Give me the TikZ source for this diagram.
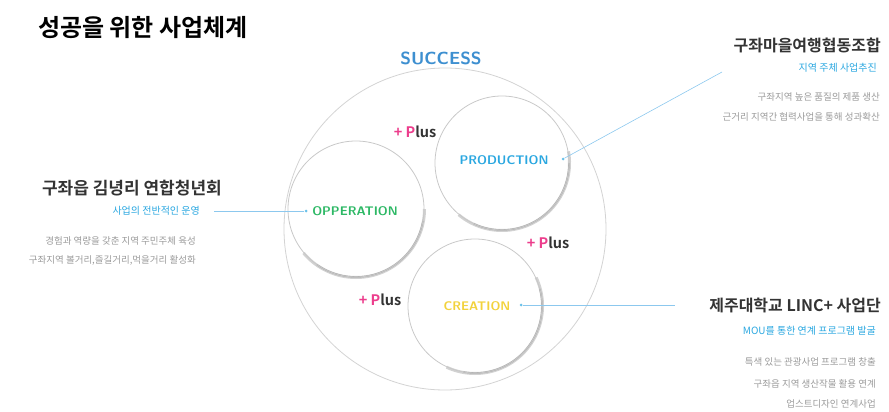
\documentclass[tikz,border=0pt]{standalone}
\usepackage{fontspec}
\setmainfont{Noto Sans CJK KR}
\newfontfamily\krb{Noto Sans CJK KR Bold}
\definecolor{sucblue}{HTML}{3D8FD0}
\definecolor{prodblue}{HTML}{2AA7E0}
\definecolor{opgreen}{HTML}{2DB865}
\definecolor{crYellow}{HTML}{F2D23C}
\definecolor{plpink}{HTML}{EC3D8C}
\definecolor{txtgray}{HTML}{9A9A9A}
\definecolor{linkblue}{HTML}{8CC8EE}
\definecolor{ringgray}{HTML}{C8C8C8}
\begin{document}
\begin{tikzpicture}[x=1pt,y=-1pt,
  ring/.style={draw=ringgray,line width=0.8pt},
  shade/.style={draw=gray!35,line width=3pt},
  shadein/.style={draw=gray!65,line width=1.4pt},
  orgtitle/.style={font=\krb\fontsize{16}{16}\selectfont,text=black!80,anchor=east,inner sep=0},
  orgsub/.style={font=\fontsize{10}{10}\selectfont,text=prodblue,anchor=east,inner sep=0},
  orgtxt/.style={font=\fontsize{9.5}{10}\selectfont,text=txtgray,anchor=east,inner sep=0},
  circlabel/.style={font=\bfseries\sffamily\fontsize{12.5}{12.5}\selectfont,inner sep=0},
  plus/.style={font=\krb\fontsize{14.5}{14.5}\selectfont,inner sep=0},
  link/.style={draw=linkblue,line width=0.6pt},
  dot/.style={circle,fill=prodblue!70,inner sep=0,minimum size=3pt}]
\useasboundingbox (0,0) rectangle (889,412);
% title
\node[font=\krb\fontsize{24}{24}\selectfont,anchor=west,inner sep=0] (title) at (38,28) {성공을 위한 사업체계};
% big circle
\draw[ring,draw=ringgray!80] (445,229) circle (161);
\node[font=\bfseries\sffamily\fontsize{17.5}{17.5}\selectfont,text=sucblue,fill=white,inner sep=3pt] (success) at (441,58) {SUCCESS};
% three circles
\draw[shade] (502,163) ++(-10:67.5) arc (-10:130:67.5);
\draw[shadein] (502,163) ++(0:67) arc (0:115:67);
\draw[ring] (502,163) circle (67);
\draw[shade] (356,209) ++(0:68.5) arc (0:140:68.5);
\draw[shadein] (356,209) ++(10:68) arc (10:125:68);
\draw[ring] (356,209) circle (68);
\draw[shade] (475,306) ++(-25:67.5) arc (-25:115:67.5);
\draw[shadein] (475,306) ++(-15:67) arc (-15:100:67);
\draw[ring] (475,306) circle (67);
% circle labels
\node[circlabel,text=prodblue] (prod) at (504,160) {PRODUCTION};
\node[circlabel,text=opgreen] (opp) at (355,211) {OPPERATION};
\node[circlabel,text=crYellow] (crea) at (477,306) {CREATION};
\node[dot] (dprod) at (563,159) {};
\node[dot] (dopp) at (306,211) {};
\node[dot] (dcrea) at (521,305) {};
% plus labels
\node[plus] (p1) at (415,132) {\textcolor{plpink}{+ P}\textcolor{black!80}{lus}};
\node[plus] (p2) at (548,243) {\textcolor{plpink}{+ P}\textcolor{black!80}{lus}};
\node[plus] (p3) at (380,300) {\textcolor{plpink}{+ P}\textcolor{black!80}{lus}};
% left block
\node[orgtitle,font=\krb\fontsize{17}{17}\selectfont] (ltitle) at (222,188) {구좌읍 김녕리 연합청년회};
\node[orgsub] (lsub) at (200,211) {사업의 전반적인 운영};
\node[orgtxt] (l1) at (196,241) {경험과 역량을 갖춘 지역 주민주체 육성};
\node[orgtxt] (l2) at (196,260) {구좌지역 볼거리,즐길거리,먹을거리 활성화};
\coordinate (lend) at (214,211);
\draw[link] (lend) -- (dopp);
% top right block
\node[orgtitle] (rtitle) at (881,45) {구좌마을여행협동조합};
\node[orgsub] (rsub) at (877,68) {지역 주체 사업추진};
\node[orgtxt] (r1) at (880,97) {구좌지역 높은 품질의 제품 생산};
\node[orgtxt] (r2) at (880,117) {근거리 지역간 협력사업을 통해 성과확산};
\coordinate (rend) at (722,72);
\draw[link] (dprod) -- (rend);
% bottom right block
\node[orgtitle] (btitle) at (881,305) {제주대학교 LINC+ 사업단};
\node[orgsub] (bsub) at (876,331) {MOU를 통한 연계 프로그램 발굴};
\node[orgtxt] (b1) at (876,362) {특색 있는 관광사업 프로그램 창출};
\node[orgtxt] (b2) at (876,384) {구좌읍 지역 생산작물 활용 연계};
\node[orgtxt] (b3) at (876,404) {업스트디자인 연계사업};
\coordinate (bend) at (675,305);
\draw[link] (dcrea) -- (bend);
\end{tikzpicture}
\end{document}
